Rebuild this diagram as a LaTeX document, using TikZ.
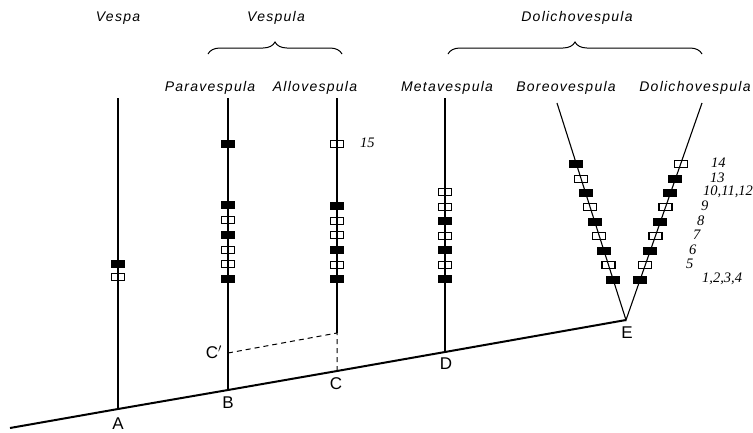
\documentclass[tikz,border=0pt]{standalone}
\usepackage{fontspec}
\setmainfont{Liberation Sans}
\newfontfamily\genusfont[LetterSpace=9]{Liberation Sans}
\newfontfamily\numfont{Liberation Serif}
\usetikzlibrary{decorations.pathreplacing,calc}
\begin{document}
\begin{tikzpicture}[x=1pt,y=-1pt,
  stem/.style={line width=1.1pt},
  baseline/.style={line width=2pt,line join=round},
  dashline/.style={line width=1pt,dash pattern=on 5pt off 4pt},
  full/.style={rectangle,fill=black,minimum width=14pt,minimum height=8pt,inner sep=0pt},
  hollow/.style={rectangle,draw=black,line width=1.2pt,minimum width=13pt,minimum height=7pt,inner sep=0pt},
  genus/.style={font=\genusfont\itshape\fontsize{14}{16}\selectfont,anchor=base,inner sep=0pt},
  ptlabel/.style={font=\fontsize{17}{19}\selectfont,inner sep=0pt},
  num/.style={font=\numfont\itshape\fontsize{14.5}{16}\selectfont,anchor=west,inner sep=0pt},
  bracestyle/.style={line width=1pt,decorate,decoration={brace,amplitude=12pt}}]
\useasboundingbox (0,0) rectangle (753,432);
% base line points
\coordinate (L) at (10,428);
\coordinate (A) at (118,409);
\coordinate (B) at (228,390);
\coordinate (C) at (337,371);
\coordinate (D) at (445,352);
\coordinate (E) at (626,320);
% tops
\coordinate (Vt) at (118,98);
\coordinate (Pt) at (228,98);
\coordinate (At) at (337,98);
\coordinate (Mt) at (445,98);
\coordinate (Bt) at (557,103);
\coordinate (Dt) at (702,103);
\coordinate (Cp) at (228,353);
\coordinate (Ca) at (337,333);
% lines
\draw[baseline] (L) -- (A) -- (B) -- (C) -- (D) -- (E);
\draw[stem] (A) -- (Vt);
\draw[stem] (B) -- (Pt);
\draw[stem] (Ca) -- (At);
\draw[stem] (D) -- (Mt);
\draw[stem,line join=miter] (Bt) -- (E) -- (Dt);
\draw[dashline] (Cp) -- (Ca) -- (C);
% point labels
\node[ptlabel] (lA) at (118,424) {A};
\node[ptlabel] (lB) at (228,403) {B};
\node[ptlabel] (lC) at (336,384) {C};
\node[ptlabel] (lD) at (446,364) {D};
\node[ptlabel] (lE) at (627,333) {E};
\node[ptlabel] (lCp) at (214,352) {C$'$};
% marks on vertical stems
\foreach \y/\s [count=\i] in {264/full,277/hollow}
  \node[\s] (ve\i) at (118,\y) {};
\foreach \y/\s [count=\i] in {144/full,205/full,220/hollow,235/full,250/hollow,264/hollow,279/full}
  \node[\s] (pa\i) at (228,\y) {};
\foreach \y/\s [count=\i] in {144/hollow,206/full,221/hollow,235/hollow,250/full,265/hollow,279/full}
  \node[\s] (al\i) at (337,\y) {};
\foreach \y/\s [count=\i] in {192/hollow,207/hollow,221/full,236/hollow,250/full,265/hollow,279/full}
  \node[\s] (me\i) at (445,\y) {};
% marks on V
\foreach \y/\s [count=\i] in {164/full,179/hollow,193/full,207/hollow,222/full,236/hollow,251/full,265/hollow,280/full}
  \node[\s] (bo\i) at ($(Bt)!{(\y-103)/217}!(E)$) {};
\foreach \y/\s [count=\i] in {164/hollow,179/full,193/full,207/hollow,222/full,236/hollow,251/full,265/hollow,280/full}
  \node[\s] (do\i) at ($(Dt)!{(\y-103)/217}!(E)$) {};
% character numbers
\node[num] (n15) at (360,143) {15};
\node[num] (n14) at (711,163) {14};
\node[num] (n13) at (710,178) {13};
\node[num] (n10) at (703,192) {10,11,12};
\node[num] (n9) at (701,206) {9};
\node[num] (n8) at (697,221) {8};
\node[num] (n7) at (693,235) {7};
\node[num] (n6) at (689,250) {6};
\node[num] (n5) at (686,264) {5};
\node[num] (n1) at (702,279) {1,2,3,4};
% genus names
\node[genus] (gVespa) at (118,21) {Vespa};
\node[genus] (gVespula) at (276,21) {Vespula};
\node[genus] (gDolicho) at (577,21) {Dolichovespula};
% braces
\coordinate (b1l) at (208,54);
\coordinate (b1r) at (342,54);
\coordinate (b2l) at (448,54);
\coordinate (b2r) at (702,54);
\draw[bracestyle] (b1l) -- (b1r);
\draw[bracestyle] (b2l) -- (b2r);
% subgenus names
\node[genus] (sPara) at (210,91) {Paravespula};
\node[genus] (sAllo) at (315,91) {Allovespula};
\node[genus] (sMeta) at (447,91) {Metavespula};
\node[genus] (sBoreo) at (566,91) {Boreovespula};
\node[genus] (sDolicho) at (695,91) {Dolichovespula};
\end{tikzpicture}
\end{document}
